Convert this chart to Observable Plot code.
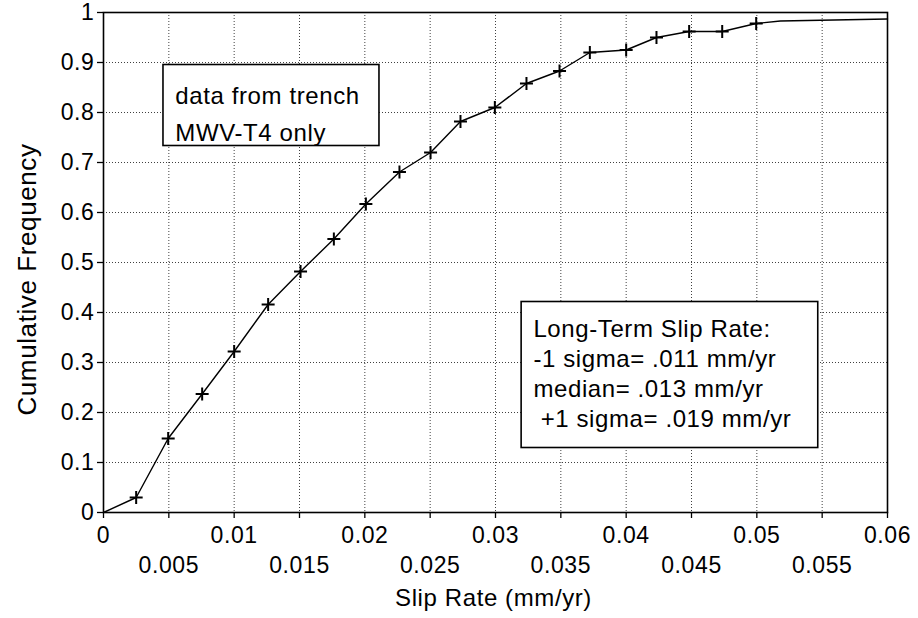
<!DOCTYPE html>
<html>
<head>
<meta charset="utf-8">
<script src="https://cdn.jsdelivr.net/npm/d3@7"></script>
<script src="https://cdn.jsdelivr.net/npm/@observablehq/plot@0.6"></script>
<style>
  html, body { margin: 0; padding: 0; background: #fff; }
  #chart svg { display: block; }
</style>
</head>
<body>
<div id="chart"></div>
<script>
// ---- data ----
const slipRate = [0.0025, 0.00495, 0.00755, 0.0100, 0.0126, 0.01508, 0.01763, 0.02008, 0.02265, 0.02503,
                  0.02732, 0.02995, 0.03237, 0.0349, 0.03722, 0.0400, 0.04232, 0.04482, 0.04735, 0.04995];
const cumFreq  = [0.030, 0.148, 0.237, 0.322, 0.416, 0.482, 0.547, 0.617, 0.681, 0.720,
                  0.782, 0.810, 0.858, 0.883, 0.920, 0.925, 0.950, 0.962, 0.962, 0.978];
// line-only vertices (no markers): origin and the tail after the last marker
const startX = [0];
const startY = [0];
const tailX = [0.0518, 0.06];
const tailY = [0.983, 0.987];

const xMajorTicks = [0, 0.01, 0.02, 0.03, 0.04, 0.05, 0.06];
const xMinorTicks = [0.005, 0.015, 0.025, 0.035, 0.045, 0.055];
const yTicks = [0, 0.1, 0.2, 0.3, 0.4, 0.5, 0.6, 0.7, 0.8, 0.9, 1];

const xTitle = "Slip Rate (mm/yr)";
const yTitle = "Cumulative Frequency";
const noteTrench = ["data from trench", "MWV-T4 only"];
const noteSlip = ["Long-Term Slip Rate:", "-1 sigma= .011 mm/yr", "median= .013 mm/yr", " +1 sigma= .019 mm/yr"];

// ---- tables built from the arrays ----
const points = slipRate.map((x, i) => ({x, y: cumFreq[i]}));
const lineData = [
  ...startX.map((x, i) => ({x, y: startY[i]})),
  ...points,
  ...tailX.map((x, i) => ({x, y: tailY[i]}))
];
const xGrid = [...xMajorTicks, ...xMinorTicks].sort((a, b) => a - b);

// annotation boxes (placement in data units)
const box1 = {x1: 0.00459, x2: 0.02112, y1: 0.733, y2: 0.895, tx: 0.0055, ty: 0.869};
const box2 = {x1: 0.0320, x2: 0.0547, y1: 0.129, y2: 0.421, tx: 0.0329, ty: 0.393};

const plusSymbol = {
  draw(context, size) {
    const r = Math.sqrt(size / Math.PI);
    context.moveTo(-r, 0); context.lineTo(r, 0);
    context.moveTo(0, -r); context.lineTo(0, r);
  }
};

const font = "'Liberation Sans', Arial, Helvetica, sans-serif";
const fmt = d => String(d);

const chart = Plot.plot({
  width: 918,
  height: 618,
  marginLeft: 103,
  marginRight: 31,
  marginTop: 12,
  marginBottom: 106,
  style: {fontFamily: font, color: "#000", background: "#fff", letterSpacing: "0.6px"},
  x: {domain: [0, 0.06], label: null},
  y: {domain: [0, 1], label: null},
  marks: [
    Plot.gridX(xGrid, {stroke: "#000", strokeOpacity: 0.75, strokeWidth: 1, strokeDasharray: "1,2"}),
    Plot.gridY(yTicks, {stroke: "#000", strokeOpacity: 0.75, strokeWidth: 1, strokeDasharray: "1,2"}),
    Plot.axisY(yTicks, {tickSize: 6, tickPadding: 3, fontSize: 23, label: null, strokeWidth: 1.3, tickFormat: fmt}),
    Plot.axisX(xMajorTicks, {tickSize: 6, tickPadding: 8, fontSize: 23, label: null, strokeWidth: 1.3, tickFormat: fmt}),
    Plot.axisX(xMinorTicks, {tickSize: 6, tickPadding: 38, fontSize: 23, label: null, strokeWidth: 1.3, tickFormat: fmt}),
    Plot.frame({stroke: "#000", strokeWidth: 1.6}),
    Plot.line(lineData, {x: "x", y: "y", stroke: "#000", strokeWidth: 1.4}),
    Plot.dot(points, {x: "x", y: "y", symbol: plusSymbol, r: 6.5, fill: "none", stroke: "#000", strokeWidth: 2}),
    // annotation boxes
    Plot.rect([box1, box2], {x1: "x1", x2: "x2", y1: "y1", y2: "y2", fill: "#fff", stroke: "#000", strokeWidth: 1.6}),
    Plot.text([noteTrench.join("\n")], {x: box1.tx, y: box1.ty, text: d => d, textAnchor: "start", lineAnchor: "top", fontSize: 24, lineHeight: 1.54, fill: "#000"}),
    Plot.text([noteSlip.join("\n")], {x: box2.tx, y: box2.ty, text: d => d, textAnchor: "start", lineAnchor: "top", fontSize: 24, lineHeight: 1.25, fill: "#000"}),
    // axis titles
    Plot.text([xTitle], {frameAnchor: "bottom", text: d => d, textAnchor: "middle", dx: -2, dy: 93, lineAnchor: "bottom", fontSize: 24, fill: "#000"}),
    Plot.text([yTitle], {frameAnchor: "left", text: d => d, textAnchor: "middle", rotate: -90, dx: -68, dy: 17, lineAnchor: "bottom", fontSize: 26, fill: "#000"})
  ]
});
document.getElementById("chart").appendChild(chart);
</script>
</body>
</html>
